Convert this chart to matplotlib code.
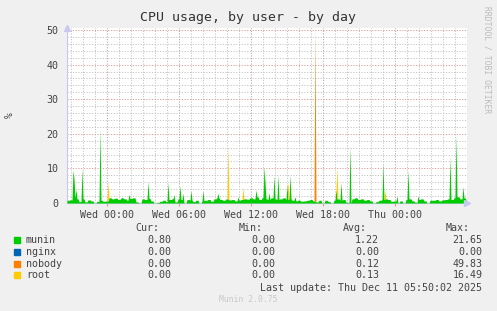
import numpy as np
import matplotlib
matplotlib.use("Agg")
import matplotlib.pyplot as plt

# time axis: hours relative to Wed 00:00, one sample every 5 minutes
start_h = -3.33
n_samples = 400

# munin low-level activity, one value per 15 minutes
munin_low = [0.8, 0.9, 1.5, 1.2, 0.4, 1.2, 0.3, 0.9, 0.6, 0.0, 0.5, 0.8, 0.5, 0.6,
             1.5, 1.2, 1.4, 1.0, 1.5, 1.2, 0.8, 1.3, 1.5,
             0.3, 0.0, 1.2, 1.0, 1.3, 0.6, 0.0, 0.2,
             0.5, 0.8, 0.4, 1.0, 1.2, 0.3, 1.2, 1.0, 0.0, 1.0,
             0.8, 0.4, 0.8, 0.0, 0.6, 0.8, 1.0, 0.5, 1.2, 1.5,
             1.0, 0.8, 1.2, 0.9, 1.0, 0.6, 0.8, 1.0, 1.2, 1.1,
             1.5, 1.2, 1.8, 1.0, 1.5, 1.2, 1.0, 1.5, 1.2, 1.0,
             1.2, 1.5, 1.0, 1.2, 0.8, 0.6, 0.8, 0.5, 0.6, 0.8,
             1.0, 0.6, 0.3, 0.8, 0.0, 0.8, 0.4, 0.0, 0.8, 1.2,
             0.8, 1.0, 0.2, 0.0, 1.2, 1.5, 1.0, 1.2, 0.8, 1.0,
             0.6, 0.0, 0.4, 0.8, 1.0, 1.2, 1.0, 0.5, 0.6, 0.0,
             0.6, 0.0, 1.0, 1.2, 0.6, 0.2, 1.0, 1.2, 0.6, 0.0,
             0.8, 0.8, 1.0, 0.6, 0.9, 1.0, 1.2, 1.0, 1.5, 1.8, 1.2, 1.5, 1.0]

# peaks (hour, value)
munin_peaks = [(-2.86, 9.5), (-2.71, 7.0), (-2.58, 4.0), (-2.11, 10.0), (-0.58, 21.65),
               (1.83, 2.5), (3.39, 6.2), (5.06, 5.9), (5.58, 2.5), (6.08, 5.0),
               (6.36, 2.8), (7.0, 3.6), (7.97, 3.6), (9.22, 2.8), (10.94, 1.8),
               (12.42, 3.8), (13.11, 10.5), (13.2, 6.0), (13.47, 3.0), (13.88, 8.0),
               (14.22, 8.0), (14.97, 5.2), (15.29, 8.0), (15.69, 1.8), (19.08, 4.0),
               (19.54, 6.0), (20.23, 16.5), (23.0, 11.5), (24.14, 2.0), (25.06, 9.5),
               (25.92, 2.0), (28.58, 13.4), (29.08, 19.5), (29.63, 4.7)]
nobody_peaks = [(17.375, 49.83)]
root_peaks = [(0.08, 5.5), (10.11, 15.2), (11.36, 3.5), (15.08, 4.5), (19.19, 9.0), (23.14, 2.5)]

names = ["munin", "nginx", "nobody", "root"]
colors = ["#00cc00", "#0066b3", "#ff8000", "#ffcc00"]
cur = ["0.80", "0.00", "0.00", "0.00"]
mins = ["0.00", "0.00", "0.00", "0.00"]
avgs = ["1.22", "0.00", "0.12", "0.13"]
maxs = ["21.65", "0.00", "49.83", "16.49"]

xtick_pos = [0, 6, 12, 18, 24]
xtick_labels = ["Wed 00:00", "Wed 06:00", "Wed 12:00", "Wed 18:00", "Thu 00:00"]
ytick_pos = [0, 10, 20, 30, 40, 50]

t = start_h + np.arange(n_samples) / 12.0


def series(peaks, low=None):
    s = np.zeros(n_samples) if low is None else np.repeat(low, 3)[:n_samples].astype(float)
    for h, v in peaks:
        s[int(round((h - start_h) * 12))] = v
    return s


munin = series(munin_peaks, munin_low)
nginx = np.zeros(n_samples)
nobody = series(nobody_peaks)
root = series(root_peaks)

mono = "DejaVu Sans Mono"
txt = "#444444"
bg = "#f0f0f0"
minor_c = "#c4c4c4"
major_c = "#e09a9a"

fig = plt.figure(figsize=(4.97, 3.11), dpi=100, facecolor=bg)
ax = fig.add_axes([67 / 497, 108 / 311, 400 / 497, 174.7 / 311])
ax.set_facecolor("white")

bottom = np.zeros(n_samples)
for s, c in zip([munin, nginx, nobody, root], colors):
    top = bottom + s
    ax.fill_between(t, bottom, top, color=c, linewidth=0, zorder=3)
    bottom = top

ax.set_xlim(start_h, start_h + n_samples / 12.0)
ax.set_ylim(0, 50.5)

# grid
for h in range(-3, 30):
    major = h % 6 == 0
    ax.axvline(h, color=major_c if major else minor_c, lw=0.7,
               ls=(0, (1.2, 1.6)), zorder=1)
for y in range(2, 51, 2):
    major = y % 10 == 0
    ax.axhline(y, color=major_c if major else minor_c, lw=0.7,
               ls=(0, (1.2, 1.6)), zorder=1)

for sp in ["top", "right"]:
    ax.spines[sp].set_visible(False)
ax.spines["left"].set_color("#c8c8f0")
ax.spines["bottom"].set_color("#c8c8f0")
ax.plot([1.0], [0], marker=">", color="#c8c8f0", ms=5, transform=ax.transAxes,
        clip_on=False, zorder=5)
ax.plot([0], [1.0], marker="^", color="#c8c8f0", ms=5, transform=ax.transAxes,
        clip_on=False, zorder=5)

ax.set_xticks(xtick_pos)
ax.set_xticklabels(xtick_labels, family=mono, fontsize=7.2, color=txt)
ax.set_yticks(ytick_pos)
ax.set_yticklabels([str(v) for v in ytick_pos], family=mono, fontsize=7.2, color=txt)
ax.tick_params(axis="x", length=2, color=major_c, pad=3)
ax.tick_params(axis="y", length=0, pad=6)

fig.text(248 / 497, 1 - 17 / 311, "CPU usage, by user - by day", family=mono,
         fontsize=9.5, color="#333333", ha="center", va="center")
fig.text(10 / 497, 1 - 115 / 311, "%", family=mono, fontsize=7, color=txt,
         rotation=90, ha="center", va="center")
fig.text(487 / 497, 1 - 60 / 311, "RRDTOOL / TOBI OETIKER", family=mono,
         fontsize=5.8, color="#bcbcbc", rotation=270, ha="center", va="center")

# legend
def fy(y):
    return 1 - y / 311


fs = 7.2
for x, lab in [(159.3, "Cur:"), (262.7, "Min:"), (366.7, "Avg:"), (470, "Max:")]:
    fig.text(x / 497, fy(228), lab, family=mono, fontsize=fs, color=txt,
             ha="right", va="center")
for i, name in enumerate(names):
    y = 240 + i * 11.8
    fig.patches.append(plt.Rectangle((14 / 497, fy(y + 3)), 6 / 497, 6 / 311,
                                     transform=fig.transFigure, color=colors[i]))
    fig.text(26 / 497, fy(y), name, family=mono, fontsize=fs, color=txt,
             ha="left", va="center")
    for x, vals in [(171, cur), (275.3, mins), (379, avgs), (482.3, maxs)]:
        fig.text(x / 497, fy(y), vals[i], family=mono, fontsize=fs, color=txt,
                 ha="right", va="center")
fig.text(482.3 / 497, fy(288), "Last update: Thu Dec 11 05:50:02 2025", family=mono,
         fontsize=fs, color=txt, ha="right", va="center")
fig.text(248 / 497, fy(300), "Munin 2.0.75", family=mono, fontsize=5.8,
         color="#c8c8c8", ha="center", va="center")

fig.savefig("out.png", dpi=100, facecolor=bg)
